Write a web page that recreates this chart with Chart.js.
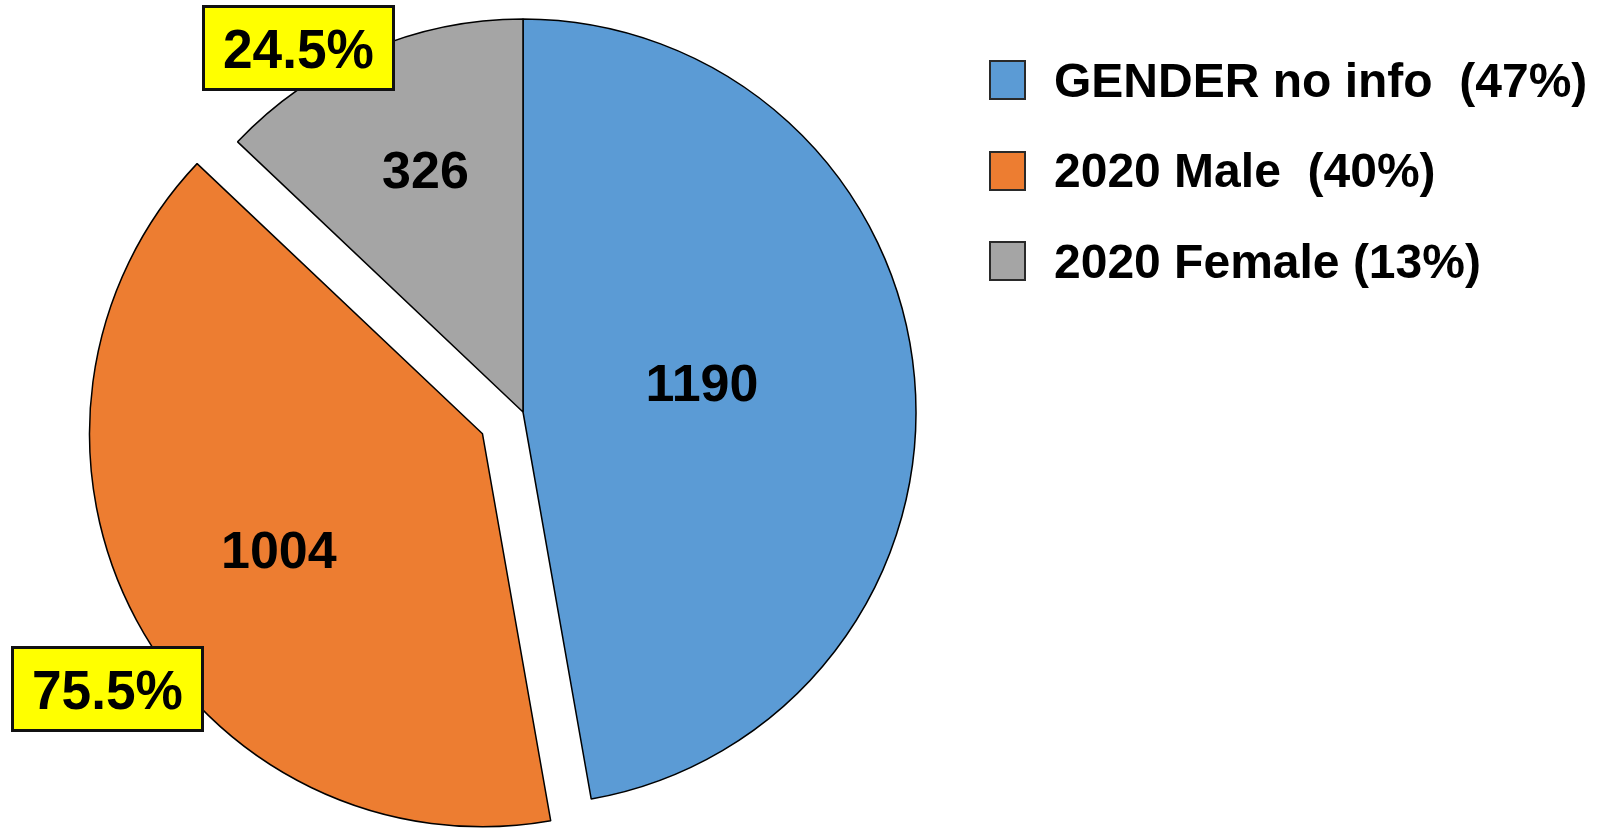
<!DOCTYPE html>
<html>
<head>
<meta charset="utf-8">
<script src="https://cdn.jsdelivr.net/npm/chart.js@4.4.1/dist/chart.umd.min.js"></script>
<style>
    html, body { margin: 0; padding: 0; background: #fff; }
    #wrap { position: relative; width: 1602px; height: 829px; overflow: hidden; }
    #pie { position: absolute; left: 0; top: 0; }
    .legend { position: absolute; left: 989px; top: 35px; font-family: "Liberation Sans", Arial, sans-serif; font-weight: bold; font-size: 48px; color: #000; }
    .legend .row { display: flex; align-items: center; height: 90.5px; white-space: pre; }
    .legend .sw { width: 37px; height: 40px; border: 2px solid #2a2a2a; margin-right: 28px; box-sizing: border-box; }
    .tag { position: absolute; width: 193px; height: 86px; box-sizing: border-box; border: 3px solid #111;
        background: #ffff00; font-family: "Liberation Sans", Arial, sans-serif; font-weight: bold; font-size: 56px;
        display: flex; align-items: center; justify-content: center; }
    .tag span { display: inline-block; transform: scaleX(0.95); }
</style>
</head>
<body>
<div id="wrap">
    <canvas id="pie" width="1602" height="829"></canvas>
    <div id="legend" class="legend"></div>
    <div class="tag" style="left:202px; top:5px;"><span id="tag-female"></span></div>
    <div class="tag" style="left:11px; top:646px;"><span id="tag-male"></span></div>
</div>
<script>
    // data
    const categories = ['GENDER no info', '2020 Male', '2020 Female'];
    const counts = [1190, 1004, 326];
    const legendGap = ['  ', '  ', ' '];

    // styling
    const colors = ['#5b9bd5', '#ed7d31', '#a5a5a5'];
    const explode = [0, 46, 0];
    const labelRadius = [0.47, 0.6, 0.66];
    const labelNudge = [[-5, -11], [4, 6], [5, -2]];

    const total = counts.reduce((a, b) => a + b, 0);

    // legend
    const legend = document.getElementById('legend');
    categories.forEach((name, i) => {
        const pct = Math.round(counts[i] / total * 100);
        legend.innerHTML += `<div class="row"><div class="sw" style="background:${colors[i]}"></div>` +
            `<span>${name}${legendGap[i]}(${pct}%)</span></div>`;
    });

    // male vs female share callouts
    const known = counts[1] + counts[2];
    document.getElementById('tag-male').textContent = (counts[1] / known * 100).toFixed(1) + '%';
    document.getElementById('tag-female').textContent = (counts[2] / known * 100).toFixed(1) + '%';

    // pull exploded slices out along their mid angle
    const explodePlugin = {
        id: 'explode',
        afterDatasetUpdate(chart, args) {
            const meta = chart.getDatasetMeta(args.index);
            meta.data.forEach((arc, i) => {
                if (!explode[i]) return;
                const mid = (arc.startAngle + arc.endAngle) / 2;
                arc.x += Math.cos(mid) * explode[i];
                arc.y += Math.sin(mid) * explode[i];
            });
        }
    };

    const valueLabels = {
        id: 'valueLabels',
        afterDatasetsDraw(chart) {
            const ctx = chart.ctx;
            const meta = chart.getDatasetMeta(0);
            ctx.save();
            ctx.font = 'bold 52px "Liberation Sans", Arial, sans-serif';
            ctx.fillStyle = '#000';
            ctx.textAlign = 'center';
            ctx.textBaseline = 'middle';
            meta.data.forEach((arc, i) => {
                const mid = (arc.startAngle + arc.endAngle) / 2;
                const r = arc.outerRadius * labelRadius[i];
                const x = arc.x + Math.cos(mid) * r + labelNudge[i][0];
                const y = arc.y + Math.sin(mid) * r + labelNudge[i][1] + 2;
                ctx.fillText(String(counts[i]), x, y);
            });
            ctx.restore();
        }
    };

    new Chart(document.getElementById('pie'), {
        type: 'pie',
        data: {
            labels: categories,
            datasets: [{
                data: counts,
                backgroundColor: colors,
                borderColor: '#000',
                borderWidth: 1.5
            }]
        },
        options: {
            responsive: false,
            animation: false,
            radius: 393,
            layout: { padding: { left: 0, right: 556, top: 0, bottom: 5 } },
            plugins: {
                legend: { display: false },
                tooltip: { enabled: false }
            }
        },
        plugins: [explodePlugin, valueLabels]
    });
</script>
</body>
</html>
